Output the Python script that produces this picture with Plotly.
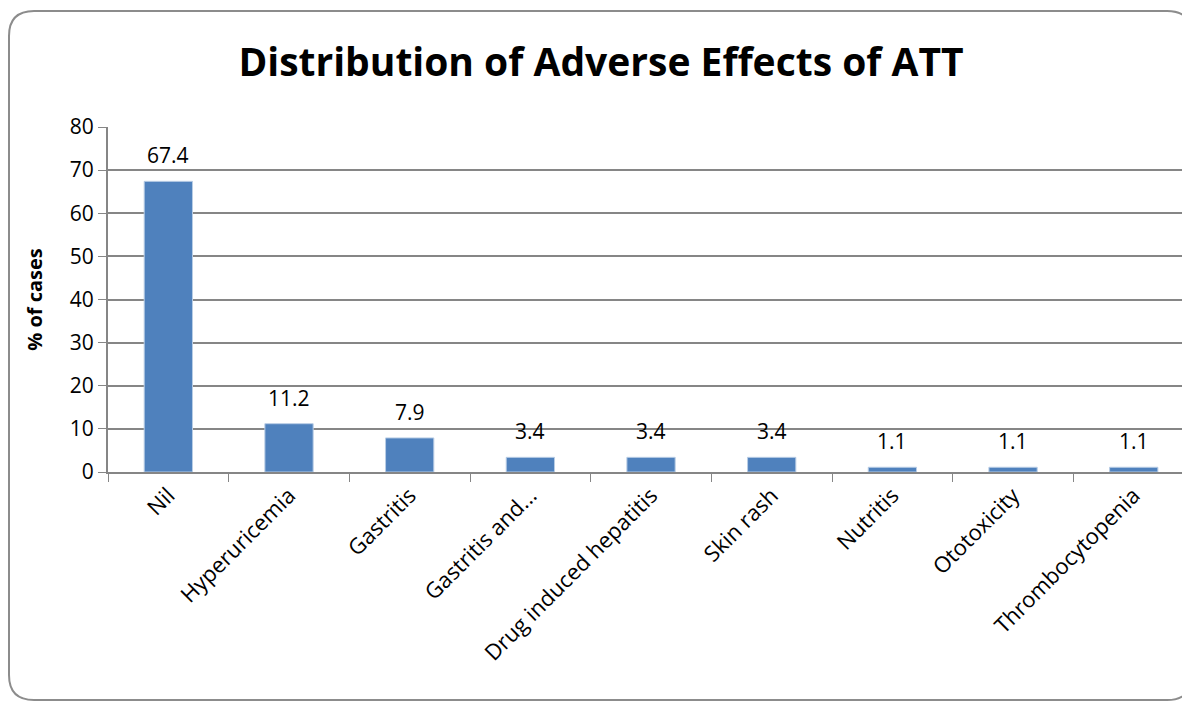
import plotly.graph_objects as go

categories = ["Nil", "Hyperuricemia", "Gastritis", "Gastritis and...", "Drug induced hepatitis",
              "Skin rash", "Nutritis", "Ototoxicity", "Thrombocytopenia"]
values = [67.4, 11.2, 7.9, 3.4, 3.4, 3.4, 1.1, 1.1, 1.1]
labels = ["67.4", "11.2", "7.9", "3.4", "3.4", "3.4", "1.1", "1.1", "1.1"]
y_ticks = [0, 10, 20, 30, 40, 50, 60, 70, 80]

W, H = 1182, 701
L, R, T, B = 108, 0, 127, 229
pw, ph = W - L - R, H - T - B

FONT = "Open Sans"

fig = go.Figure(go.Bar(
    x=categories, y=values,
    marker=dict(color="#4F81BD", line=dict(color="#B9CDE5", width=1)),
    width=0.4,
))

for c, v, t in zip(categories, values, labels):
    fig.add_annotation(x=c, y=v, text=t, showarrow=False, yanchor="middle", yshift=26,
                       font=dict(size=21, color="black", family=FONT))

def px2paper_x(px):
    return (px - L) / pw

def px2paper_y(py):
    return (H - B - py) / ph

x0, x1 = px2paper_x(9), px2paper_x(1192)
y0, y1 = px2paper_y(700), px2paper_y(11)
rx, ry = 25 / pw, 25 / ph
path = (f"M {x0+rx},{y1} L {x1-rx},{y1} Q {x1},{y1} {x1},{y1-ry} "
        f"L {x1},{y0+ry} Q {x1},{y0} {x1-rx},{y0} L {x0+rx},{y0} Q {x0},{y0} {x0},{y0+ry} "
        f"L {x0},{y1-ry} Q {x0},{y1} {x0+rx},{y1} Z")

fig.update_layout(
    width=W, height=H,
    margin=dict(l=L, r=R, t=T, b=B),
    paper_bgcolor="white", plot_bgcolor="white",
    font=dict(family=FONT, color="black"),
    title=dict(text="<b>Distribution of Adverse Effects of ATT</b>",
               font=dict(size=39, family=FONT, color="black"),
               x=601 / W, xanchor="center", y=1 - 62 / H, yanchor="middle"),
    showlegend=False,
    shapes=[dict(type="path", path=path, xref="paper", yref="paper",
                 line=dict(color="#8C8C8C", width=2), layer="below")],
    bargap=0.6,
)
fig.update_xaxes(
    range=[-0.5, 8.4], tickangle=-45, tickson="boundaries",
    ticks="outside", ticklen=8, tickcolor="#868686",
    showline=True, linecolor="#868686", linewidth=2,
    tickfont=dict(size=22, family=FONT, color="black"),
)
fig.update_yaxes(
    range=[0, 80], tickvals=y_ticks, ticks="outside", ticklen=8, tickcolor="#868686",
    showline=True, linecolor="#868686", linewidth=2,
    showgrid=True, gridcolor="#868686", gridwidth=1.5, zeroline=False,
    tickfont=dict(size=21, family=FONT, color="black"),
    title=dict(text="<b>% of cases</b>", font=dict(size=20, family=FONT, color="black"),
               standoff=22),
)

fig.write_html(
    "out.html",
    config={"displayModeBar": False},
    post_script="document.body.style.margin='0';document.documentElement.style.overflow='hidden';",
)
